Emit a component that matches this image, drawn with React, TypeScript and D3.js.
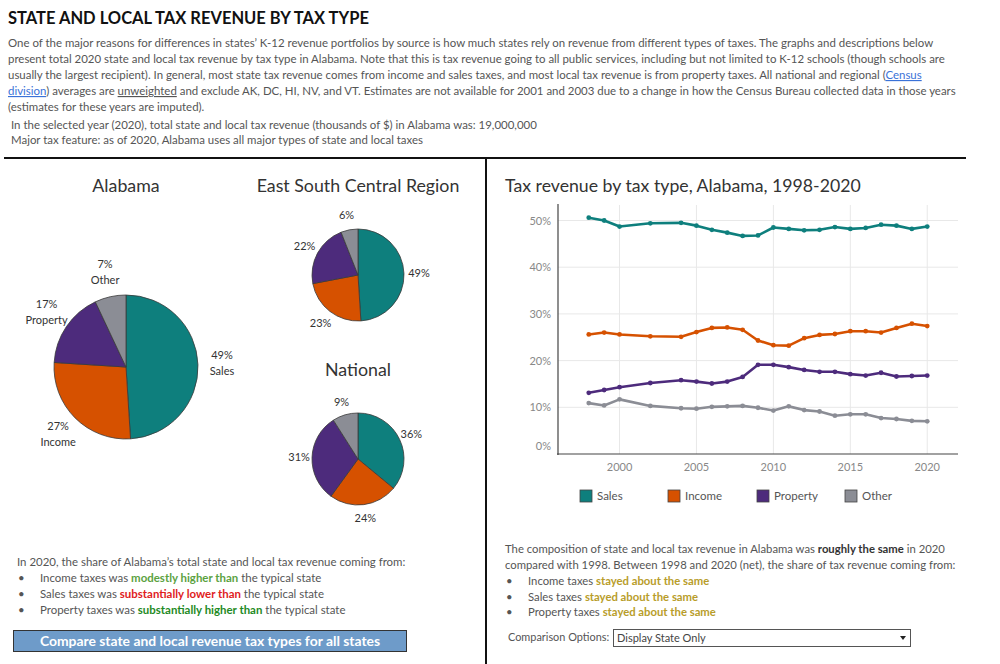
import * as d3 from "d3";

const categories = ["Sales", "Income", "Property", "Other"];
const colors = ["#0e7f7d", "#d65100", "#4d2b7c", "#8b8d95"];

const alabamaShares = [49, 27, 17, 7];
const regionShares = [49, 23, 22, 6];
const nationalShares = [36, 24, 31, 9];

const years = [1998, 1999, 2000, 2002, 2004, 2005, 2006, 2007, 2008, 2009, 2010, 2011, 2012, 2013, 2014, 2015, 2016, 2017, 2018, 2019, 2020];
const salesSeries = [50.6, 50.0, 48.7, 49.4, 49.5, 48.9, 48.0, 47.4, 46.7, 46.8, 48.5, 48.2, 47.9, 48.0, 48.6, 48.2, 48.4, 49.1, 48.9, 48.2, 48.7];
const incomeSeries = [25.6, 26.0, 25.6, 25.2, 25.1, 26.1, 27.0, 27.1, 26.6, 24.3, 23.3, 23.2, 24.8, 25.5, 25.7, 26.3, 26.3, 26.0, 27.0, 27.9, 27.4];
const propertySeries = [13.1, 13.7, 14.3, 15.2, 15.8, 15.5, 15.1, 15.5, 16.5, 19.1, 19.1, 18.6, 18.0, 17.6, 17.6, 17.1, 16.8, 17.4, 16.6, 16.7, 16.8];
const otherSeries = [10.9, 10.4, 11.7, 10.3, 9.8, 9.7, 10.1, 10.2, 10.3, 9.9, 9.3, 10.2, 9.4, 9.1, 8.2, 8.5, 8.5, 7.7, 7.5, 7.1, 7.0];

const yTicks = [0, 10, 20, 30, 40, 50];
const xTicks = [2000, 2005, 2010, 2015, 2020];

const FONT = "Lato, 'Open Sans', sans-serif";
const TEXT = "#555";
const BODY = 11.45;

function Pie({
  shares,
  cx,
  cy,
  r,
  labelGap,
  showNames
}: {
  shares: number[];
  cx: number;
  cy: number;
  r: number;
  labelGap: number;
  showNames: boolean;
}) {
  const pie = d3.pie<number>().sort(null).value((d) => d);
  const arcs = pie(shares);
  const arc = d3.arc<d3.PieArcDatum<number>>().innerRadius(0).outerRadius(r);
  const lr = r + labelGap;
  return (
    <g transform={`translate(${cx},${cy})`}>
      {arcs.map((a, i) => (
        <path key={i} d={arc(a) ?? ""} fill={colors[i]} stroke="#3a3a3a" strokeWidth={0.8} />
      ))}
      {arcs.map((a, i) => {
        const mid = (a.startAngle + a.endAngle) / 2;
        const lx = Math.sin(mid) * lr;
        const ly = -Math.cos(mid) * lr;
        return (
          <text key={`l${i}`} x={lx} y={ly} textAnchor="middle" fontSize={11} fill="#333">
            <tspan x={lx} dy={showNames ? -5 : 4}>{`${shares[i]}%`}</tspan>
            {showNames && (
              <tspan x={lx} dy={16}>
                {categories[i]}
              </tspan>
            )}
          </text>
        );
      })}
    </g>
  );
}

export default function App() {
  const x = d3.scaleLinear().domain([1996, 2022]).range([558, 958]);
  const y = d3.scaleLinear().domain([0, 50]).range([454, 220.5]);
  const series = [salesSeries, incomeSeries, propertySeries, otherSeries];
  const line = d3
    .line<number>()
    .x((_, i) => x(years[i]))
    .y((d) => y(d));

  const legendX = [580, 668, 757, 845];

  return (
    <svg
      width={1000}
      height={664}
      viewBox="0 0 1000 664"
      style={{ position: "absolute", left: 0, top: 0, background: "#fff" }}
      fontFamily={FONT}
    >
      {/* header */}
      <text x={8} y={24} fontSize={16.5} fontWeight={700} fill="#111">
        STATE AND LOCAL TAX REVENUE BY TAX TYPE
      </text>
      <g fontSize={BODY} fill={TEXT}>
        <text x={8} y={47}>
          One of the major reasons for differences in states’ K-12 revenue portfolios by source is how much states rely on revenue from different types of taxes. The graphs and descriptions below
        </text>
        <text x={8} y={63}>
          present total 2020 state and local tax revenue by tax type in Alabama. Note that this is tax revenue going to all public services, including but not limited to K-12 schools (though schools are
        </text>
        <text x={8} y={79}>
          usually the largest recipient). In general, most state tax revenue comes from income and sales taxes, and most local tax revenue is from property taxes. All national and regional (
          <tspan fill="#3a72d8" style={{ textDecoration: "underline" }}>
            Census
          </tspan>
        </text>
        <text x={8} y={95}>
          <tspan fill="#3a72d8" style={{ textDecoration: "underline" }}>division</tspan>
          ) averages are <tspan style={{ textDecoration: "underline" }}>unweighted</tspan> and exclude AK, DC, HI, NV, and VT. Estimates are not available for 2001 and 2003 due to a change in how the Census Bureau collected data in those years
        </text>
        <text x={8} y={111}>(estimates for these years are imputed).</text>
        <text x={11} y={129}>
          In the selected year (2020), total state and local tax revenue (thousands of $) in Alabama was: 19,000,000
        </text>
        <text x={11} y={144}>
          Major tax feature: as of 2020, Alabama uses all major types of state and local taxes
        </text>
      </g>

      {/* dividers */}
      <line x1={4} x2={966} y1={158} y2={158} stroke="#111" strokeWidth={2} />
      <line x1={486} x2={486} y1={158} y2={664} stroke="#111" strokeWidth={2} />

      {/* pies */}
      <g fontSize={17.8} fill="#333" textAnchor="middle">
        <text x={126} y={192}>Alabama</text>
        <text x={358} y={192}>East South Central Region</text>
        <text x={358} y={376}>National</text>
      </g>
      <Pie shares={alabamaShares} cx={126} cy={367} r={72} labelGap={24} showNames={true} />
      <Pie shares={regionShares} cx={358} cy={275} r={46} labelGap={15} showNames={false} />
      <Pie shares={nationalShares} cx={358} cy={459} r={46} labelGap={13} showNames={false} />

      {/* bottom-left narrative */}
      <g fontSize={BODY} fill={TEXT}>
        <text x={17} y={566}>In 2020, the share of Alabama’s total state and local tax revenue coming from:</text>
        <text x={18} y={582}>•</text>
        <text x={40} y={582}>
          Income taxes was <tspan fontWeight={700} fill="#5ba23f">modestly higher than</tspan> the typical state
        </text>
        <text x={18} y={598}>•</text>
        <text x={40} y={598}>
          Sales taxes was <tspan fontWeight={700} fill="#e0201c">substantially lower than</tspan> the typical state
        </text>
        <text x={18} y={614}>•</text>
        <text x={40} y={614}>
          Property taxes was <tspan fontWeight={700} fill="#1e8a24">substantially higher than</tspan> the typical state
        </text>
      </g>
      <rect x={13.5} y={630.5} width={393} height={21} fill="#6e9bc9" stroke="#333" strokeWidth={1} />
      <text x={210} y={646} textAnchor="middle" fontSize={13.9} fontWeight={700} fill="#fff">
        Compare state and local revenue tax types for all states
      </text>

      {/* line chart */}
      <text x={505} y={192} fontSize={17.7} fill="#333">
        Tax revenue by tax type, Alabama, 1998-2020
      </text>
      {yTicks
        .filter((t) => t > 0)
        .map((t) => (
          <line key={`gy${t}`} x1={558} x2={958} y1={y(t)} y2={y(t)} stroke="#e8e8e8" strokeWidth={1} />
        ))}
      {xTicks.map((t) => (
        <line key={`gx${t}`} x1={x(t)} x2={x(t)} y1={205} y2={454} stroke="#e8e8e8" strokeWidth={1} />
      ))}
      <line x1={558} x2={558} y1={204} y2={455} stroke="#444" strokeWidth={1.2} />
      <line x1={557} x2={958} y1={454} y2={454} stroke="#444" strokeWidth={1.2} />
      <g fontSize={11} fill="#888" textAnchor="end">
        {yTicks.map((t) => (
          <text key={`ty${t}`} x={551} y={(t === 0 ? y(t) - 8 : y(t)) + 4}>
            {`${t}%`}
          </text>
        ))}
      </g>
      <g fontSize={11} fill="#888" textAnchor="middle">
        {xTicks.map((t) => (
          <text key={`tx${t}`} x={x(t)} y={471}>
            {t}
          </text>
        ))}
      </g>
      {series.map((s, si) => (
        <g key={`s${si}`}>
          <path d={line(s) ?? ""} fill="none" stroke={colors[si]} strokeWidth={2.6} strokeLinejoin="round" />
          {s.map((v, i) => (
            <circle key={i} cx={x(years[i])} cy={y(v)} r={2.4} fill={colors[si]} />
          ))}
        </g>
      ))}
      <g fontSize={11.5} fill="#555">
        {categories.map((c, i) => (
          <g key={c}>
            <rect x={legendX[i]} y={490} width={12} height={12} fill={colors[i]} stroke="#444" strokeWidth={0.8} />
            <text x={legendX[i] + 17} y={500}>
              {c}
            </text>
          </g>
        ))}
      </g>

      {/* bottom-right narrative */}
      <g fontSize={11.3} fill={TEXT}>
        <text x={505} y={553}>
          The composition of state and local tax revenue in Alabama was <tspan fontWeight={700} fill="#333">roughly the same</tspan> in 2020
        </text>
        <text x={505} y={569}>compared with 1998. Between 1998 and 2020 (net), the share of tax revenue coming from:</text>
        <text x={506} y={585}>•</text>
        <text x={528} y={585}>
          Income taxes <tspan fontWeight={700} fill="#b89d2a">stayed about the same</tspan>
        </text>
        <text x={506} y={601}>•</text>
        <text x={528} y={601}>
          Sales taxes <tspan fontWeight={700} fill="#b89d2a"> stayed about the same</tspan>
        </text>
        <text x={506} y={616}>•</text>
        <text x={528} y={616}>
          Property taxes <tspan fontWeight={700} fill="#b89d2a">stayed about the same</tspan>
        </text>
      </g>
      <text x={508} y={641} fontSize={10.9} fill={TEXT}>
        Comparison Options:
      </text>
      <rect x={613.5} y={629.5} width={297} height={17} fill="#fff" stroke="#555" strokeWidth={1} />
      <text x={617} y={641.5} fontSize={11} fill="#444">
        Display State Only
      </text>
      <path d="M900,636 L906,636 L903,640 Z" fill="#222" />
    </svg>
  );
}
